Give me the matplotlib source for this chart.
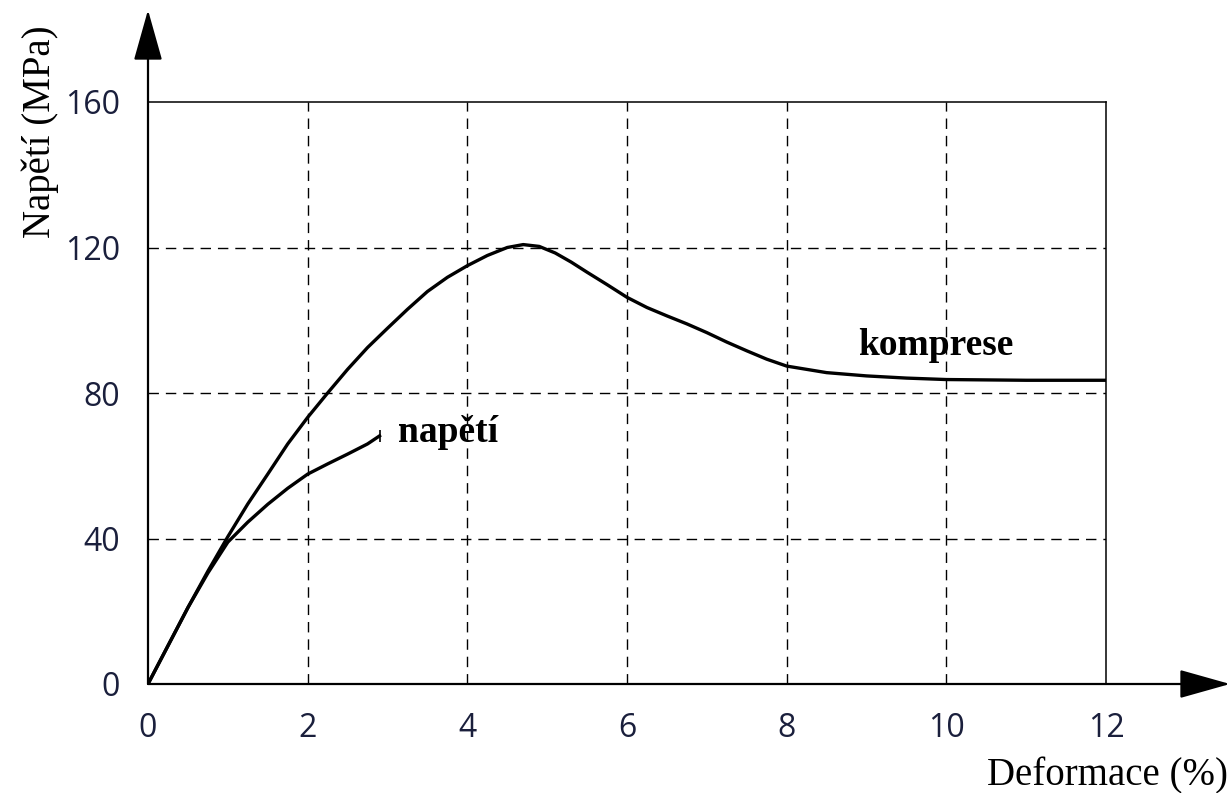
import matplotlib
matplotlib.use("Agg")
import matplotlib.pyplot as plt

# Data
komprese_x = [0, 0.25, 0.5, 0.75, 1.0, 1.25, 1.5, 1.75, 2.0, 2.25, 2.5, 2.75, 3.0,
              3.25, 3.5, 3.75, 4.0, 4.25, 4.5, 4.7, 4.9, 5.1, 5.3, 5.5, 5.75, 6.0,
              6.25, 6.5, 6.75, 7.0, 7.25, 7.5, 7.75, 8.0, 8.5, 9.0, 9.5, 10.0, 11.0, 12.0]
komprese_y = [0, 10.5, 21, 31, 40.5, 49.5, 57.7, 66, 73.3, 80, 86.5, 92.5, 97.8,
              103, 107.9, 111.8, 115, 117.8, 120, 120.8, 120.3, 118.5, 116, 113.2, 109.8, 106.3,
              103.5, 101.2, 99, 96.6, 94, 91.6, 89.3, 87.4, 85.6, 84.7, 84.1, 83.7, 83.5, 83.5]

napeti_x = [0, 0.25, 0.5, 0.75, 1.0, 1.25, 1.5, 1.75, 2.0, 2.25, 2.5, 2.75, 2.9]
napeti_y = [0, 10.5, 21, 30.5, 39, 44.5, 49.4, 53.8, 57.7, 60.5, 63.2, 66, 68.2]

x_ticks = [0, 2, 4, 6, 8, 10, 12]
y_ticks = [0, 40, 80, 120, 160]

W, H = 1231, 793
plt.rcParams["lines.scale_dashes"] = False

fig = plt.figure(figsize=(W / 100, H / 100), dpi=100)
ax = fig.add_axes([148 / W, 1 - 684 / H, (1106 - 148) / W, (684 - 102) / H])
ax.set_xlim(0, 12)
ax.set_ylim(0, 160)

# dashed grid (inner lines only)
for x in x_ticks[1:-1]:
    ax.axvline(x, color="black", lw=1.0, dashes=(7.5, 5), zorder=1)
for y in y_ticks[1:-1]:
    ax.axhline(y, color="black", lw=1.0, dashes=(7.5, 5), zorder=1)

# curves
ax.plot(komprese_x, komprese_y, color="black", lw=2.4, zorder=3,
        solid_joinstyle="round", solid_capstyle="round")
ax.plot(napeti_x, napeti_y, color="black", lw=2.4, zorder=3,
        solid_joinstyle="round", marker="|", markevery=[-1],
        markersize=9, markeredgewidth=1.2)

ax.text(3.13, 66.5, "napětí", fontsize=27, fontweight="bold",
        family="Liberation Serif", va="baseline", ha="left")
ax.text(8.9, 90.4, "komprese", fontsize=27, fontweight="bold",
        family="Liberation Serif", va="baseline", ha="left")

# spines: top / right solid thin, left / bottom replaced by arrows
for s in ["left", "bottom"]:
    ax.spines[s].set_visible(False)
for s in ["top", "right"]:
    ax.spines[s].set_linewidth(1.1)

ax.set_xticks(x_ticks)
ax.set_yticks(y_ticks)
tick_color = "#1a1f3c"
ax.tick_params(length=0, labelsize=23, labelcolor=tick_color, pad=20)
for lab in ax.get_xticklabels() + ax.get_yticklabels():
    lab.set_family("Open Sans")

# axis arrows
arrow_kw = dict(arrowstyle="-|>,head_length=3.2,head_width=0.9", mutation_scale=10,
                color="black", lw=1.6, shrinkA=0, shrinkB=0)
ax.annotate("", xy=(0, 1 - 10 / H), xycoords=("data", "figure fraction"),
            xytext=(0, 0), textcoords="data", arrowprops=arrow_kw, annotation_clip=False)
ax.annotate("", xy=(1230 / W, 0), xycoords=("figure fraction", "data"),
            xytext=(0, 0), textcoords="data", arrowprops=arrow_kw, annotation_clip=False)

# axis titles
fig.text(1228 / W, 1 - 785 / H, "Deformace (%)", fontsize=28,
         family="Liberation Serif", ha="right", va="baseline")
fig.text(40 / W, 1 - 132 / H, "Napětí (MPa)", fontsize=28, rotation=90,
         family="Liberation Serif", ha="center", va="center")

fig.savefig("out.png", dpi=100)
plt.close(fig)
